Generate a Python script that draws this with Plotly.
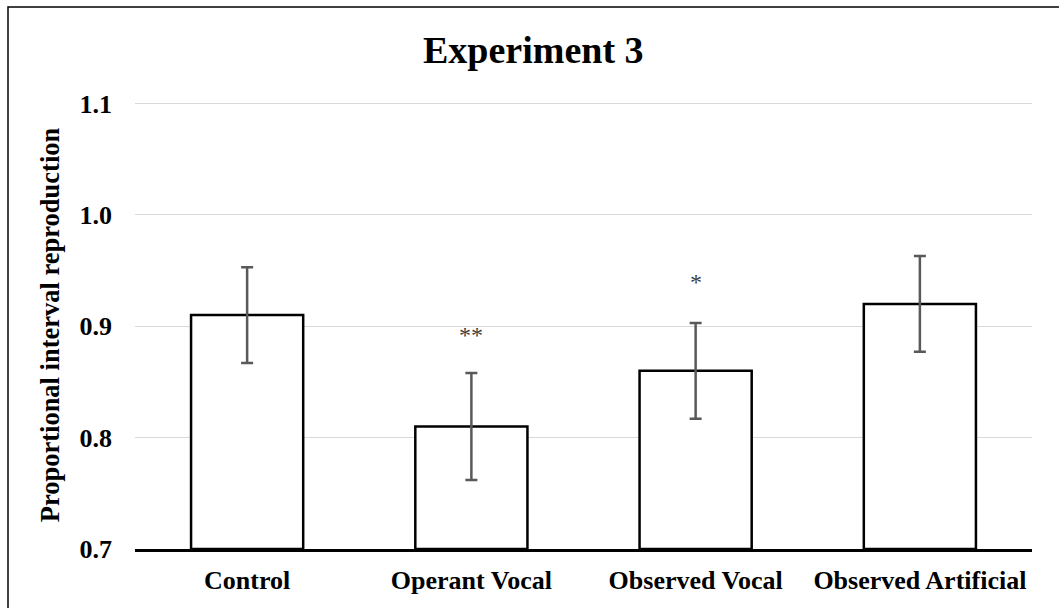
import plotly.graph_objects as go

categories = ["Control", "Operant Vocal", "Observed Vocal", "Observed Artificial"]
means = [0.91, 0.81, 0.86, 0.92]
errors = [0.043, 0.048, 0.043, 0.043]
sig_labels = ["", "**", "*", ""]
sig_y = [None, 0.892, 0.940, None]
y_ticks = [0.7, 0.8, 0.9, 1.0, 1.1]
y_tick_text = ["0.7", "0.8", "0.9", "1.0", "1.1"]

W, H = 1059, 608
L, R, T, B = 135, 27, 101, 59
pw, ph = W - L - R, H - T - B
y_top = 0.7 + ph / 445.5 * 0.4

FONT = "Liberation Serif"

fig = go.Figure()
fig.add_trace(go.Bar(
    x=categories, y=[m - 0.7 for m in means], base=0.7,
    marker=dict(color="white", line=dict(color="black", width=2.5)),
    error_y=dict(type="data", array=errors, color="#595959", thickness=2.5, width=6),
    showlegend=False,
))

for c, s, yy in zip(categories, sig_labels, sig_y):
    if s:
        fig.add_annotation(x=c, y=yy, text=s, showarrow=False, yanchor="middle",
                           font=dict(family=FONT, size=24, color="#404040"))

fig.add_annotation(xref="paper", yref="paper", x=(533 - L) / pw, y=(H - B - 50) / ph,
                   text="Experiment 3", showarrow=False, xanchor="center", yanchor="middle",
                   font=dict(family=FONT, size=38, color="black", weight="bold"))

fig.add_shape(type="rect", xref="paper", yref="paper", layer="above",
              x0=(8 - L) / pw, x1=(1070 - L) / pw,
              y0=(H - B - 620) / ph, y1=(H - B - 7) / ph,
              line=dict(color="black", width=1.5), fillcolor="rgba(0,0,0,0)")

fig.update_layout(
    width=W, height=H, margin=dict(l=L, r=R, t=T, b=B),
    paper_bgcolor="white", plot_bgcolor="white", bargap=0.5,
    font=dict(family=FONT, color="black"),
)
fig.update_xaxes(showline=True, linecolor="black", linewidth=2.5, showgrid=False,
                 ticks="", ticklabelstandoff=6,
                 tickfont=dict(family=FONT, size=26, color="black", weight="bold"))
fig.update_yaxes(range=[0.7, y_top], tickvals=y_ticks, ticktext=y_tick_text,
                 showgrid=True, gridcolor="#d9d9d9", gridwidth=1.2, zeroline=False,
                 showline=False, ticks="", ticklabelstandoff=22,
                 tickfont=dict(family=FONT, size=26, color="black", weight="bold"),
                 title=dict(text="Proportional interval reproduction", standoff=12,
                            font=dict(family=FONT, size=26.5, color="black", weight="bold")))

fig.write_html("out.html")
